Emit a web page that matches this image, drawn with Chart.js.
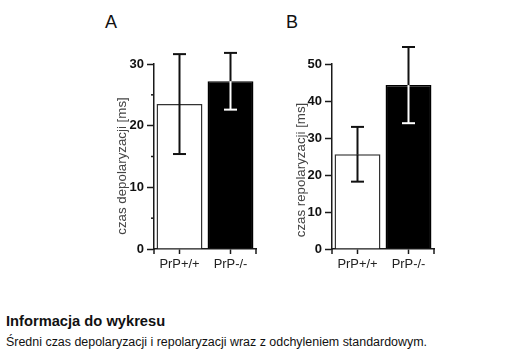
<!DOCTYPE html>
<html>
<head>
<meta charset="utf-8">
<script src="https://cdn.jsdelivr.net/npm/chart.js@4"></script>
<style>
  html, body { margin: 0; padding: 0; background: #fff; }
  body { width: 507px; height: 361px; position: relative; overflow: hidden; font-family: "Liberation Sans", Arial, sans-serif; color: #111; }
  canvas { position: absolute; }
  .panel { position: absolute; font-size: 18px; line-height: 20px; color: #111; }
  .info-title { position: absolute; left: 6px; top: 313px; font-size: 14.7px; line-height: 17px; font-weight: bold; color: #111; }
  .info-text { position: absolute; left: 6px; top: 335px; font-size: 12.45px; line-height: 14px; color: #111; white-space: nowrap; }
</style>
</head>
<body>
<div class="panel" style="left:105px; top:12px;">A</div>
<div class="panel" style="left:286px; top:12px;">B</div>
<canvas id="cA" width="180" height="250" style="left:90px; top:30px;"></canvas>
<canvas id="cB" width="180" height="250" style="left:270px; top:30px;"></canvas>
<div class="info-title">Informacja do wykresu</div>
<div class="info-text">Średni czas depolaryzacji i repolaryzacji wraz z odchyleniem standardowym.</div>
<script>
// ---- data ----
const categories = ['PrP+/+', 'PrP-/-'];
const meanDep = [23.5, 27.2];
const sdDep = [8.1, 4.6];
const meanRep = [25.6, 44.3];
const sdRep = [7.4, 10.3];
const maxDep = 30;
const maxRep = 50;
const titleDep = 'czas depolaryzacji [ms]';
const titleRep = 'czas repolaryzacji [ms]';

// ---- styles ----
const barFill = ['#ffffff', '#000000'];
const barBorder = ['#333333', '#000000'];
const errInner = ['#111111', '#ffffff'];
const axisColor = '#1a1a1a';
const FONT = '"Liberation Sans", Arial, sans-serif';

const line = (ctx, x1, y1, x2, y2) => { ctx.beginPath(); ctx.moveTo(x1, y1); ctx.lineTo(x2, y2); ctx.stroke(); };

const errPlugin = {
  id: 'errbar',
  afterDatasetsDraw(chart, args, opts) {
    const ctx = chart.ctx, y = chart.scales.y;
    const meta = chart.getDatasetMeta(0);
    const ds = chart.data.datasets[0];
    ctx.save();
    ctx.lineWidth = 2;
    meta.data.forEach((bar, i) => {
      const m = ds.data[i], s = opts.sd[i];
      const x = bar.x;
      const yTop = y.getPixelForValue(m + s);
      const yBot = y.getPixelForValue(m - s);
      const yBar = y.getPixelForValue(m);
      const hw = 6.5;
      ctx.strokeStyle = '#111111';
      line(ctx, x, yTop, x, yBar);
      line(ctx, x - hw, yTop, x + hw, yTop);
      ctx.strokeStyle = errInner[i];
      line(ctx, x, yBar, x, yBot);
      line(ctx, x - hw, yBot, x + hw, yBot);
    });
    ctx.restore();
  }
};

const extraPlugin = {
  id: 'extra',
  afterDraw(chart, args, opts) {
    const { ctx, chartArea: ca, scales: { y } } = chart;
    ctx.save();
    ctx.strokeStyle = axisColor;
    ctx.lineWidth = 1.5;
    y.ticks.forEach(t => {
      if (t.value % 10 !== 0) {
        const py = y.getPixelForValue(t.value);
        line(ctx, ca.left - 3, py, ca.left, py);
      }
    });
    [ca.left, ca.right].forEach(px => line(ctx, px, ca.bottom, px, ca.bottom + 5));
    // y axis title
    ctx.fillStyle = '#444444';
    ctx.font = '13.3px ' + FONT;
    ctx.textAlign = 'center';
    ctx.textBaseline = 'middle';
    ctx.translate(opts.x, opts.y);
    ctx.rotate(-Math.PI / 2);
    ctx.fillText(opts.text, 0, 0);
    ctx.restore();
  }
};

function makeChart(id, means, sds, maxV, title, yWidth, padRight, titleX, titleY) {
  return new Chart(document.getElementById(id), {
    type: 'bar',
    data: {
      labels: categories,
      datasets: [{
        data: means,
        backgroundColor: barFill,
        borderColor: barBorder,
        borderWidth: 1.5,
        barPercentage: 0.9,
        categoryPercentage: 1.0
      }]
    },
    plugins: [errPlugin, extraPlugin],
    options: {
      responsive: false,
      animation: false,
      devicePixelRatio: 1,
      layout: { padding: { top: 34, right: padRight, left: 0, bottom: 0 } },
      plugins: {
        legend: { display: false },
        tooltip: { enabled: false },
        errbar: { sd: sds },
        extra: { text: title, x: titleX, y: titleY }
      },
      scales: {
        x: {
          grid: { display: true, drawOnChartArea: false, offset: false, tickLength: 5, tickColor: axisColor, tickWidth: 1.5 },
          border: { display: true, color: axisColor, width: 1.5 },
          ticks: { color: '#222', font: { family: FONT, size: 12.9 }, padding: 3, maxRotation: 0 },
          afterFit: s => { s.height = 31; }
        },
        y: {
          min: 0, max: maxV,
          grid: { display: true, drawOnChartArea: false, tickLength: 7, tickWidth: 1.5,
                  tickColor: c => (c.tick && c.tick.value % 10 === 0) ? axisColor : 'rgba(0,0,0,0)' },
          border: { display: true, color: axisColor, width: 1.5 },
          ticks: { stepSize: 5, color: '#111', padding: 3, font: { family: FONT, size: 13, weight: 'bold' },
                   callback: v => (v % 10 === 0 ? String(v) : '') },
          afterFit: s => { s.width = yWidth; }
        }
      }
    }
  });
}

makeChart('cA', meanDep, sdDep, maxDep, titleDep, 64, 14, 32, 136);
makeChart('cB', meanRep, sdRep, maxRep, titleRep, 62, 16, 31, 140);
</script>
</body>
</html>
